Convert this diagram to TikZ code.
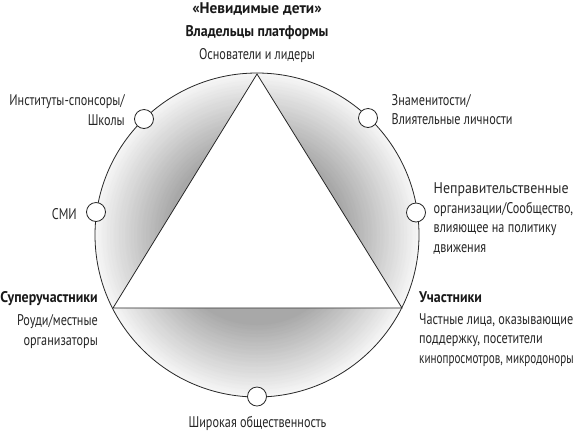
\documentclass[tikz,border=0pt]{standalone}
\usepackage{fontspec}
\setmainfont{PT Sans}[FakeStretch=0.79]
\newfontfamily\boldF{PT Sans}[FakeStretch=0.9]
\newfontfamily\titleF{PT Sans}[FakeStretch=0.99]
\newfontfamily\wideF{PT Sans}[FakeStretch=0.9]
\newfontfamily\narrowF{PT Sans}[FakeStretch=0.72]
\begin{document}
\begin{tikzpicture}[x=1bp,y=-1bp,
  lbl/.style={inner sep=0pt, font=\fontsize{15.5}{19.7}\selectfont, text=black!85},
  boldlbl/.style={inner sep=0pt, font=\boldF\fontsize{15.5}{19.7}\selectfont\bfseries, text=black!90},
  dot/.style={circle, draw=black!85, fill=white, line width=0.8bp, minimum size=19bp, inner sep=0pt},
  edge/.style={draw=black!85, line width=0.8bp}]
\useasboundingbox (0,0) rectangle (579,432);
\coordinate (O) at (257,235);
\coordinate (A) at (257,74);
\coordinate (L) at (113,308);
\coordinate (R) at (402,308);
\foreach \i in {0,...,48} {
  \pgfmathsetmacro\rr{162-1.5*\i}
  \pgfmathtruncatemacro\cc{4+30*\i/48}
  \fill[black!\cc] (O) circle[radius=\rr];
}
\draw[edge] (O) circle[radius=162];
\fill[white] (A) -- (L) -- (R) -- cycle;
\draw[edge, line join=miter] (A) -- (L) -- (R) -- cycle;
\node[dot] (inst) at (144,119) {};
\node[dot] (cel) at (368,118) {};
\node[dot] (ngo) at (416,212.5) {};
\node[dot] (smi) at (96,212) {};
\node[dot] (pub) at (257,396.5) {};
\node[boldlbl, anchor=base, font=\titleF\fontsize{15.5}{19.7}\selectfont\bfseries] (t1) at (257,13.5) {«Невидимые дети»};
\node[boldlbl, anchor=base] (t2) at (257,36) {Владельцы платформы};
\node[lbl, anchor=base] (t3) at (257,59.5) {Основатели и лидеры};
\node[lbl, anchor=north east, align=right] (instL) at (125,94.5) {Институты-спонсоры/\\Школы};
\node[lbl, anchor=north west, align=left] (celL) at (391.5,94) {Знаменитости/\\Влиятельные личности};
\node[lbl, anchor=north west, align=left] (ngoL) at (433.5,182.5) {{\wideF Неправительственные}\\организации/Сообщество,\\влияющее на политику\\движения};
\node[lbl, anchor=base east] (smiL) at (77,219) {СМИ};
\node[boldlbl, anchor=base east] (supL) at (98,302.7) {Суперучастники};
\node[lbl, anchor=north east, align=right] (roudL) at (98,314.2) {Роуди/местные\\организаторы};
\node[boldlbl, anchor=base west] (partL) at (419,302.7) {Участники};
\node[lbl, anchor=north west, align=left] (privL) at (419,313.2) {Частные лица, оказывающие\\поддержку, посетители\\{\narrowF кинопросмотров, микродоноры}};
\node[lbl, anchor=base] (pubL) at (257.5,427.3) {Широкая общественность};
\end{tikzpicture}
\end{document}
